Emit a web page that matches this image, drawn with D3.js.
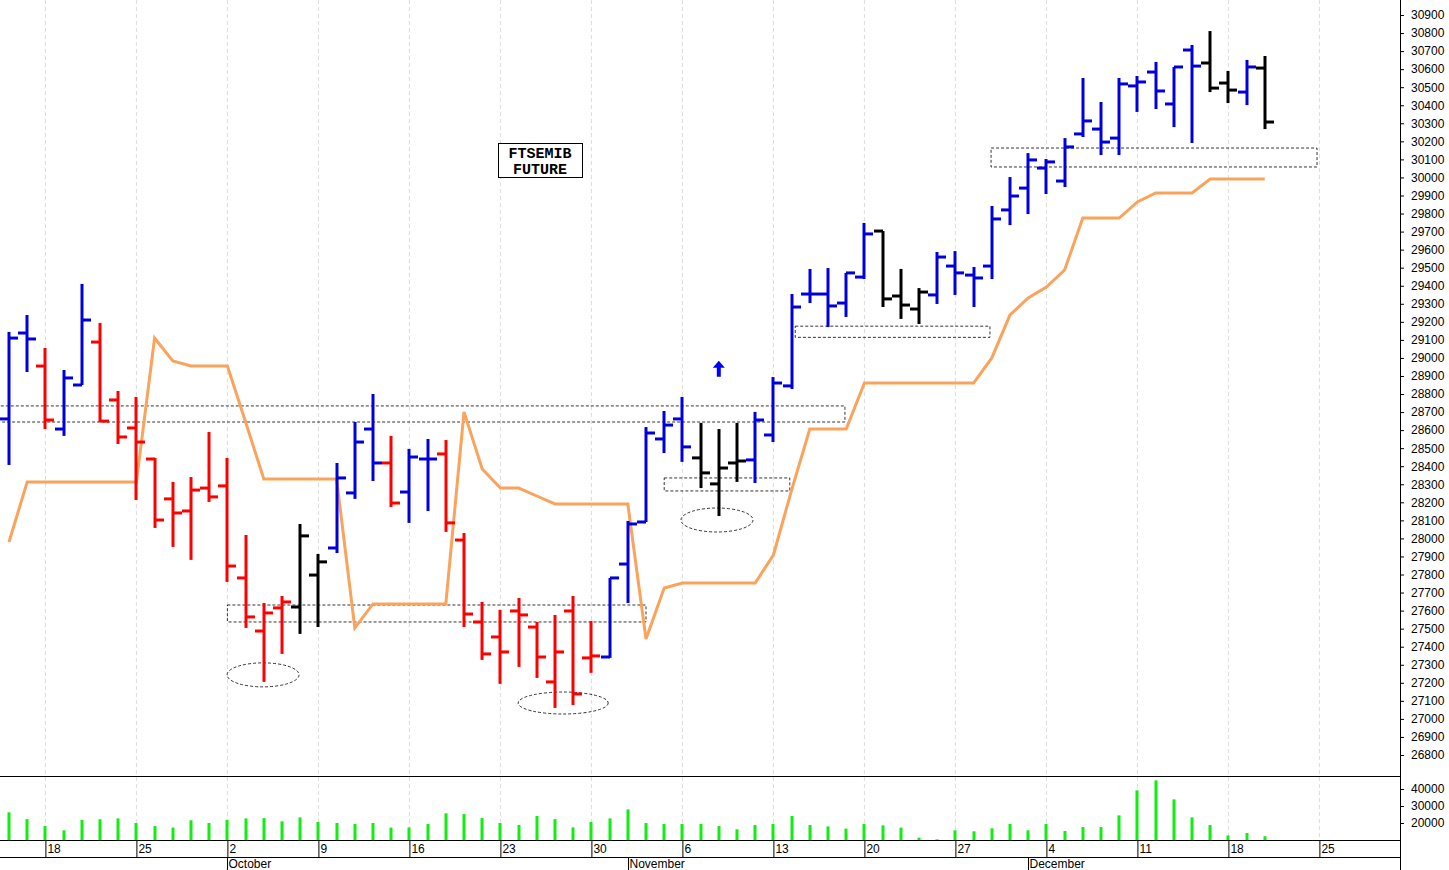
<!DOCTYPE html>
<html><head><meta charset="utf-8">
<script src="https://cdn.jsdelivr.net/npm/d3@7"></script>
<style>body{margin:0;background:#fff}svg{display:block}text{font-family:"Liberation Sans",Arial,sans-serif}</style>
</head><body><svg id="c" width="1449" height="870"></svg>
<script>
const opens  = [28662,29138,28955,28606,28850,29088,28767,28612,28440,28219,28152,28279,28291,27781,27487,27615,27620,27797,27947,28252,28606,28418,28257,28440,28468,27991,27537,27454,27598,27509,27205,27598,27338,27343,27858,28091,28551,28662,28446,28302,28418,28435,28573,28845,29354,29354,29304,29448,29703,29343,29271,29349,29509,29459,29509,29820,29941,30052,29980,30241,30268,30218,30507,30584,30407,30706,30634,30523,30473,30606];
const highs  = [29144,29238,29055,28933,29410,29194,28817,28784,28446,28313,28340,28590,28446,28019,27642,27681,28080,27914,28418,28645,28800,28568,28496,28551,28545,28030,27648,27604,27670,27537,27576,27681,27543,27781,28097,28617,28706,28784,28640,28606,28640,28701,28894,29354,29493,29498,29471,29748,29703,29493,29387,29587,29592,29504,29842,30002,30135,30102,30218,30551,30418,30551,30562,30640,30612,30734,30811,30590,30651,30673];
const lows   = [28407,28922,28606,28568,28850,28645,28523,28213,28058,27953,27881,28202,27759,27504,27205,27360,27471,27509,27919,28219,28318,28174,28086,28152,28036,27509,27327,27194,27288,27227,27061,27077,27255,27338,27642,28091,28473,28424,28279,28124,28313,28307,28534,28828,29304,29171,29227,29437,29282,29216,29188,29299,29349,29282,29437,29736,29797,29908,29947,30224,30124,30124,30363,30379,30279,30191,30473,30412,30401,30268];
const closes = [29110,29105,28656,28889,29210,28650,28562,28534,28102,28141,28268,28230,27847,27565,27587,27648,28014,27870,28335,28534,28418,28196,28451,28440,28086,27581,27360,27371,27576,27343,27371,27138,27349,27781,28080,28584,28628,28507,28363,28390,28429,28656,28861,29282,29354,29288,29471,29687,29327,29293,29365,29559,29471,29443,29770,29897,30097,30086,30169,30313,30196,30518,30529,30479,30612,30617,30495,30484,30612,30307];
const signal = "BBRBBRRRRRRRRRRRKKBBBRBBRRRRRRRRRBBBBBKKKBBBBBBBKKKBBBBBBBBBBBBBBBKKBK".split("");
const stopLine = [27980,28313,28313,28313,28313,28313,28313,28313,29110,28983,28955,28955,28955,28645,28329,28329,28329,28329,28329,27504,27637,27637,27637,27637,27637,28701,28385,28279,28279,28235,28191,28191,28191,28191,28191,27443,27725,27753,27753,27753,27753,27753,27908,28268,28606,28606,28606,28861,28861,28861,28861,28861,28861,28861,29000,29238,29332,29393,29487,29775,29775,29775,29864,29914,29914,29914,29991,29991,29991,29991];
const volumes = [26300,22300,18200,15700,21800,22200,22700,20000,18200,17300,21600,20000,21800,22700,22900,21000,23300,20600,20000,19400,20000,17300,17400,19400,25700,25300,22900,20000,18800,24100,22300,17400,20600,22700,28000,20000,19400,19400,19400,18200,16300,18800,19400,24100,18800,18000,16700,19400,18600,17300,11400,10400,15700,15100,16900,19400,15700,19400,15300,17600,17600,24500,39200,45100,33900,23300,18800,12700,14100,12200];
const dayLabels = ["18","25","2","9","16","23","30","6","13","20","27","4","11","18","25"];
const dayIndex  = [2,7,12,17,22,27,32,37,42,47,52,57,62,67,72];
const monthLabels = ["October","November","December"];
const monthIndex  = [12,34,56];
const priceTicks = d3.range(26800, 30901, 100);
const volTicks = [20000,30000,40000];
const title = ["FTSEMIB","FUTURE"];
const zones = [[-1,45.93,28734,28645],[12,35,27631,27537],[36,42.9,28335,28263],[43.2,53.9,29176,29114],[53.96,71.87,30163,30058]];
const ellipses = [[13.96,27244,36,12],[30.45,27088,45,11],[38.9,28102,36,12]];
const arrowAt = [39,28940];

const svg = d3.select("#c");
const x = d3.scaleLinear().domain([0,69]).range([9,1264.8]);
const y = d3.scaleLinear().domain([26800,30900]).range([755,15]);
const yv = d3.scaleLinear().domain([10000,40000]).range([840,789]);
const col = {B:"#0000dd",R:"#ff0000",K:"#000000"};

dayIndex.forEach(i=>{
  svg.append("line").attr("x1",x(i)).attr("x2",x(i)).attr("y1",0).attr("y2",840)
    .attr("stroke","#dcdcdc").attr("stroke-dasharray","4,3");
});
svg.append("line").attr("x1",1400.5).attr("x2",1400.5).attr("y1",0).attr("y2",870).attr("stroke","#000");
svg.append("line").attr("x1",0).attr("x2",1400).attr("y1",776.5).attr("y2",776.5).attr("stroke","#000");
svg.append("line").attr("x1",0).attr("x2",1400).attr("y1",840.5).attr("y2",840.5).attr("stroke","#000");
svg.append("line").attr("x1",0).attr("x2",1400).attr("y1",857.5).attr("y2",857.5).attr("stroke","#000");

const ya = svg.append("g").attr("transform","translate(1400,0)")
  .call(d3.axisRight(y).tickValues(priceTicks).tickSize(4).tickFormat(d3.format("d")));
ya.select(".domain").remove();
ya.selectAll("text").attr("x",11).attr("font-size",12).attr("fill","#000");
const va = svg.append("g").attr("transform","translate(1400,0)")
  .call(d3.axisRight(yv).tickValues(volTicks).tickSize(4).tickFormat(d3.format("d")));
va.select(".domain").remove();
va.selectAll("text").attr("x",11).attr("font-size",12);

dayIndex.forEach((i,k)=>{
  svg.append("line").attr("x1",x(i)+0.5).attr("x2",x(i)+0.5).attr("y1",840).attr("y2",857).attr("stroke","#000");
  svg.append("text").attr("x",x(i)+2).attr("y",853).attr("font-size",12).text(dayLabels[k]);
});
monthIndex.forEach((i,k)=>{
  const xm = Math.round(x(i))+0.5;
  svg.append("line").attr("x1",xm).attr("x2",xm).attr("y1",857).attr("y2",870).attr("stroke","#000");
  svg.append("text").attr("x",xm+1).attr("y",868).attr("font-size",12).text(monthLabels[k]);
});

zones.forEach(z=>{
  svg.append("rect").attr("x",x(z[0])).attr("y",y(z[2])).attr("width",x(z[1])-x(z[0])).attr("height",y(z[3])-y(z[2]))
    .attr("fill","none").attr("stroke","#000").attr("stroke-width",0.8).attr("stroke-dasharray","3,2");
});
ellipses.forEach(e=>{
  svg.append("ellipse").attr("cx",x(e[0])).attr("cy",y(e[1])).attr("rx",e[2]).attr("ry",e[3])
    .attr("fill","none").attr("stroke","#000").attr("stroke-width",0.8).attr("stroke-dasharray","3,2");
});

svg.append("path").datum(stopLine).attr("fill","none").attr("stroke","#f9a35d").attr("stroke-width",3)
  .attr("d",d3.line().x((d,i)=>x(i)).y(d=>y(d)));

const g = svg.append("g");
opens.forEach((o,i)=>{
  const c = col[signal[i]], xi = Math.round(x(i));
  g.append("line").attr("x1",xi).attr("x2",xi).attr("y1",y(highs[i])).attr("y2",y(lows[i])).attr("stroke",c).attr("stroke-width",3);
  g.append("line").attr("x1",xi-9).attr("x2",xi).attr("y1",y(o)).attr("y2",y(o)).attr("stroke",c).attr("stroke-width",3);
  g.append("line").attr("x1",xi).attr("x2",xi+9).attr("y1",y(closes[i])).attr("y2",y(closes[i])).attr("stroke",c).attr("stroke-width",3);
});
volumes.forEach((v,i)=>{
  svg.append("rect").attr("x",Math.round(x(i))-1.5).attr("y",yv(v)).attr("width",3).attr("height",840-yv(v)).attr("fill","#11ee11");
});

const ax = x(arrowAt[0]), ay = y(arrowAt[1]);
svg.append("path").attr("d",`M${ax},${ay-8} L${ax+6},${ay-1} L${ax+2},${ay-1} L${ax+2},${ay+8} L${ax-2},${ay+8} L${ax-2},${ay-1} L${ax-6},${ay-1} Z`).attr("fill","#0000ff");

svg.append("rect").attr("x",498.5).attr("y",143.5).attr("width",84).attr("height",34).attr("fill","#fff").attr("stroke","#000");
title.forEach((t,k)=>svg.append("text").attr("x",540).attr("y",158+k*16).attr("text-anchor","middle")
  .style("font-family","'Liberation Mono', monospace").style("font-weight","bold").style("font-size","15px").text(t));
</script></body></html>
